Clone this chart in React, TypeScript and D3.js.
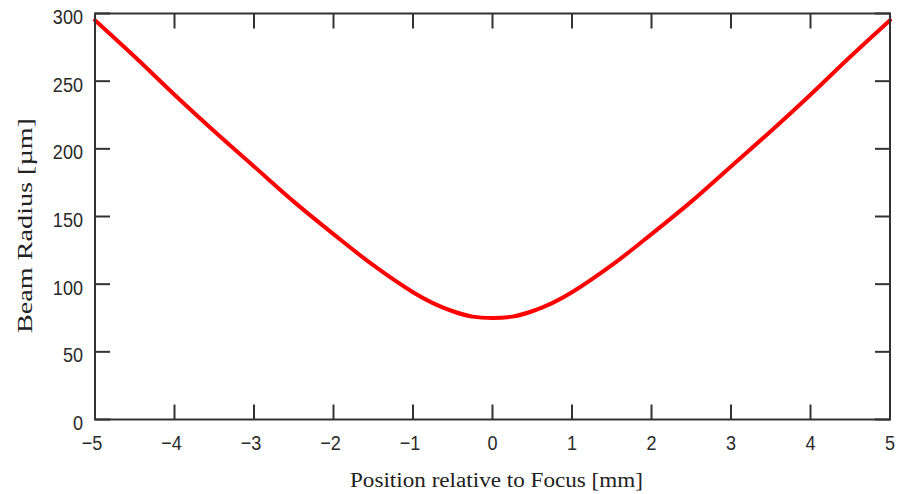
import React from "react";
import * as d3 from "d3";

const positions = [-5, -4.5, -4, -3.5, -3, -2.5, -2, -1.5, -1, -0.75, -0.5, -0.25, 0, 0.25, 0.5, 0.75, 1, 1.5, 2, 2.5, 3, 3.5, 4, 4.5, 5];
const radius = [295, 268, 240, 213, 187, 161, 137, 114, 94, 86, 80, 76, 75, 76, 80, 86, 94, 114, 137, 161, 187, 213, 240, 268, 295];
const xTicks = [-5, -4, -3, -2, -1, 0, 1, 2, 3, 4, 5];
const yTicks = [0, 50, 100, 150, 200, 250, 300];
const xTitle = "Position relative to Focus [mm]";
const yTitle = "Beam Radius [\u00b5m]";

const W = 903, H = 494;
const L = 95, R = 890, T = 13.5, B = 419.5;
const TICK = 15;
const AXIS = "#333333";
const SANS = "Liberation Sans, Arial, sans-serif";
const SERIF = "Liberation Serif, Times New Roman, serif";

export default function App() {
  const x = d3.scaleLinear().domain([-5, 5]).range([L, R]);
  const y = d3.scaleLinear().domain([0, 300]).range([B, T]);
  const pts = positions.map((p, i) => [p, radius[i]] as [number, number]);
  const line = d3.line<[number, number]>().x(d => x(d[0])).y(d => y(d[1])).curve(d3.curveCatmullRom.alpha(0.5));
  const fmt = (v: number) => (v < 0 ? "\u2212" + Math.abs(v) : String(v));
  return (
    <div style={{ position: "fixed", left: 0, top: 0 }}>
      <svg width={W} height={H} style={{ display: "block", background: "#fff" }}>
        <rect x={0} y={0} width={W} height={H} fill="#fff" />
        <path d={line(pts) || ""} fill="none" stroke="#ff0000" strokeWidth={4} strokeLinejoin="round" strokeLinecap="round" />
        <rect x={L} y={T} width={R - L} height={B - T} fill="none" stroke={AXIS} strokeWidth={2} />
        {xTicks.map(t => (
          <g key={"x" + t}>
            <line x1={x(t)} x2={x(t)} y1={B} y2={B - TICK} stroke={AXIS} strokeWidth={2} />
            <line x1={x(t)} x2={x(t)} y1={T} y2={T + TICK} stroke={AXIS} strokeWidth={2} />
            <text transform={`translate(${x(t) + (t < 0 ? -3 : 0)},450) scale(0.86,1)`} textAnchor="middle" fontFamily={SANS} fontSize={21} fill="#2a2a2a">{fmt(t)}</text>
          </g>
        ))}
        {yTicks.map(t => (
          <g key={"y" + t}>
            <line x1={L} x2={L + TICK} y1={y(t)} y2={y(t)} stroke={AXIS} strokeWidth={2} />
            <line x1={R} x2={R - TICK} y1={y(t)} y2={y(t)} stroke={AXIS} strokeWidth={2} />
            <text transform={`translate(83,${y(t) + 10.5}) scale(0.86,1)`} textAnchor="end" fontFamily={SANS} fontSize={21} fill="#2a2a2a">{fmt(t)}</text>
          </g>
        ))}
        <text x={(350 + 643) / 2} y={487} textAnchor="middle" fontFamily={SERIF} fontSize={20} fill="#222" textLength={293} lengthAdjust="spacingAndGlyphs">{xTitle}</text>
        <text transform={`translate(32, ${(118 + 333) / 2}) rotate(-90)`} textAnchor="middle" fontFamily={SERIF} fontSize={20} fill="#222" textLength={215} lengthAdjust="spacingAndGlyphs">{yTitle}</text>
      </svg>
    </div>
  );
}
